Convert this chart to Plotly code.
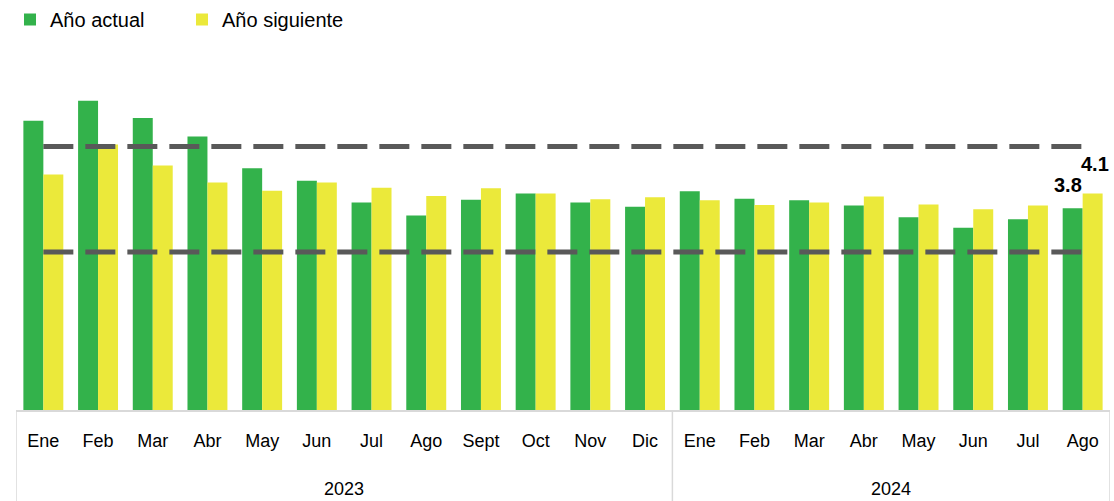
import plotly.graph_objects as go

months = ["Ene", "Feb", "Mar", "Abr", "May", "Jun", "Jul", "Ago", "Sept", "Oct", "Nov", "Dic",
          "Ene", "Feb", "Mar", "Abr", "May", "Jun", "Jul", "Ago"]
years = ["2023"] * 12 + ["2024"] * 8

anio_actual = [5.49, 5.87, 5.54, 5.19, 4.59, 4.35, 3.94, 3.69, 3.99, 4.11, 3.94, 3.86,
               4.15, 4.01, 3.98, 3.88, 3.66, 3.46, 3.62, 3.83]
anio_siguiente = [4.47, 5.04, 4.64, 4.32, 4.16, 4.32, 4.22, 4.06, 4.21, 4.11, 4.00, 4.04,
                  3.98, 3.89, 3.94, 4.05, 3.90, 3.81, 3.88, 4.11]
limite_superior = [5.0] * 20
limite_inferior = [3.0] * 20

GREEN = "#33b24b"
YELLOW = "#ebe93a"
FONT = "Liberation Sans"
GRID = "#d9d9d9"

keys = [f"{m} {y}" for m, y in zip(months, years)]

fig = go.Figure()
fig.add_trace(go.Bar(x=keys, y=anio_actual, name="Año actual", marker_color=GREEN,
                     marker_line_width=0))
fig.add_trace(go.Bar(x=keys, y=anio_siguiente, name="Año siguiente", marker_color=YELLOW,
                     marker_line_width=0))
for vals in (limite_superior, limite_inferior):
    fig.add_trace(go.Scatter(x=keys, y=vals, mode="lines", showlegend=False,
                             line=dict(color="#595959", width=5, dash="30px,12px"),
                             hoverinfo="skip"))

# value labels on the last month
n = len(keys)
fig.add_annotation(x=n - 1, y=anio_actual[-1], text=f"<b>{anio_actual[-1]:.1f}</b>",
                   showarrow=False, xref="x", yref="y", yanchor="bottom",
                   xshift=-15, yshift=10, font=dict(size=20, family=FONT, color="black"))
fig.add_annotation(x=n - 1, y=anio_siguiente[-1], text=f"<b>{anio_siguiente[-1]:.1f}</b>",
                   showarrow=False, xref="x", yref="y", yanchor="bottom",
                   xshift=12, yshift=16, font=dict(size=20, family=FONT, color="black"))

# year group labels and dividers
groups = []
for i, y in enumerate(years):
    if not groups or groups[-1][0] != y:
        groups.append([y, i, i])
    else:
        groups[-1][2] = i
bounds = set()
for y, i0, i1 in groups:
    fig.add_annotation(x=(i0 + i1) / 2, y=0, xref="x", yref="paper", text=y,
                       showarrow=False, yanchor="middle", yshift=-79,
                       font=dict(size=18, family=FONT, color="black"))
    bounds.add(i0 - 0.5)
    bounds.add(i1 + 0.5)
for b in sorted(bounds):
    fig.add_shape(type="line", xref="x", yref="paper", x0=b, x1=b, y0=0, y1=-0.26,
                  line=dict(color=GRID, width=1.5))

fig.update_layout(
    width=1114, height=501,
    margin=dict(l=16, r=4, t=57, b=91),
    paper_bgcolor="white", plot_bgcolor="white",
    barmode="group", bargap=0.27, bargroupgap=0,
    font=dict(family=FONT, size=18, color="black"),
    showlegend=True,
    legend=dict(orientation="h", xref="container", yref="container",
                x=0.009, y=1.0, xanchor="left", yanchor="top",
                font=dict(size=20, family=FONT), itemsizing="constant",
                traceorder="normal", itemwidth=30,
                entrywidth=127, entrywidthmode="pixels"),
)
fig.update_xaxes(type="category", showline=True, linecolor=GRID, linewidth=1.5,
                 showgrid=False, ticks="", tickvals=keys, ticktext=months,
                 ticklabelstandoff=14, tickfont=dict(size=18, family=FONT),
                 automargin=False, range=[-0.5, n - 0.5])
fig.update_yaxes(visible=False, range=[0, 6.7], showgrid=False, zeroline=False,
                 automargin=False)

fig.write_html("out.html", config={"displayModeBar": False},
               post_script="document.body.style.margin='0';")
